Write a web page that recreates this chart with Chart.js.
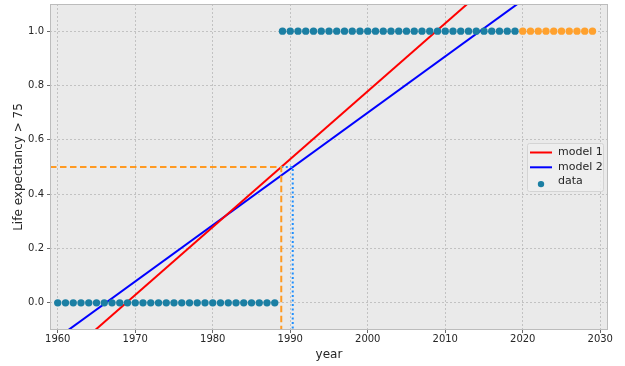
<!DOCTYPE html>
<html>
<head>
<meta charset="utf-8">
<script src="https://cdn.jsdelivr.net/npm/chart.js@4/dist/chart.umd.min.js"></script>
<style>
  html, body { margin: 0; padding: 0; background: #ffffff; }
  #wrap { width: 625px; height: 366px; }
</style>
</head>
<body>
<div id="wrap"><canvas id="chart" width="625" height="366"></canvas></div>
<script>
  // observed years and the 0/1 outcome
  var obsYears = [];
  var obsValues = [
    0, 0, 0, 0, 0, 0, 0, 0, 0, 0, 0, 0, 0, 0, 0, 0, 0, 0, 0, 0,
    0, 0, 0, 0, 0, 0, 0, 0, 0,
    1, 1, 1, 1, 1, 1, 1, 1, 1, 1, 1, 1, 1, 1, 1, 1, 1, 1, 1, 1,
    1, 1, 1, 1, 1, 1, 1, 1, 1, 1, 1
  ];
  for (var i = 0; i < obsValues.length; i++) obsYears.push(1960 + i);

  // projected years (orange)
  var projYears = [2020, 2021, 2022, 2023, 2024, 2025, 2026, 2027, 2028, 2029];
  var projValues = [1, 1, 1, 1, 1, 1, 1, 1, 1, 1];

  // fitted lines, endpoints
  var model1X = [1959, 2031];
  var model1Y = [-0.246, 1.554];
  var model2X = [1959, 2031];
  var model2Y = [-0.149, 1.342];

  // 0.5 threshold crossings
  var cut1 = 1988.84;
  var cut2 = 1990.32;
  var threshold = 0.5;

  var xTicks = [1960, 1970, 1980, 1990, 2000, 2010, 2020, 2030];
  var yTicks = [0, 0.2, 0.4, 0.6, 0.8, 1.0];

  var FONT = "'DejaVu Sans', sans-serif";
  var TEXT = '#262626';

  function pts(xs, ys) {
    return xs.map(function (x, k) { return { x: x, y: ys[k] }; });
  }

  var plotBg = {
    id: 'plotBg',
    beforeDraw: function (chart) {
      var a = chart.chartArea, ctx = chart.ctx;
      ctx.save();
      ctx.fillStyle = '#eaeaea';
      ctx.fillRect(a.left, a.top, a.right - a.left, a.bottom - a.top);
      ctx.restore();
    },
    afterDraw: function (chart) {
      var a = chart.chartArea, ctx = chart.ctx;
      ctx.save();
      ctx.strokeStyle = '#bcbcbc';
      ctx.lineWidth = 1;
      ctx.strokeRect(a.left + 0.5, a.top + 0.5, a.right - a.left - 1, a.bottom - a.top - 1);
      ctx.restore();
    }
  };

  // legend drawn inside the plot, from the dataset labels/colours
  var innerLegend = {
    id: 'innerLegend',
    afterDraw: function (chart) {
      var ctx = chart.ctx;
      var items = chart.data.datasets.filter(function (d) { return d.legend; });
      var x0 = 527, y0 = 143, w = 76, h = 48;
      ctx.save();
      ctx.fillStyle = 'rgba(238,238,238,0.85)';
      ctx.strokeStyle = '#d4d4d4';
      ctx.lineWidth = 1;
      ctx.beginPath();
      ctx.roundRect(x0 + 0.5, y0 + 0.5, w, h, 2);
      ctx.fill();
      ctx.stroke();
      ctx.font = '11px ' + FONT;
      ctx.textBaseline = 'middle';
      items.forEach(function (d, k) {
        var cy = y0 + 9.5 + k * 14.8;
        if (d.type === 'line') {
          ctx.strokeStyle = d.borderColor;
          ctx.lineWidth = 2;
          ctx.beginPath();
          ctx.moveTo(x0 + 3, cy);
          ctx.lineTo(x0 + 25, cy);
          ctx.stroke();
        } else {
          ctx.fillStyle = d.backgroundColor;
          ctx.beginPath();
          ctx.arc(x0 + 14, cy + 2, 3.2, 0, Math.PI * 2);
          ctx.fill();
        }
        ctx.fillStyle = TEXT;
        ctx.fillText(d.label, x0 + 31, cy - 0.5);
      });
      ctx.restore();
    }
  };

  new Chart(document.getElementById('chart'), {
    type: 'scatter',
    data: {
      datasets: [
        {
          type: 'line', label: 'model 1', legend: true,
          data: pts(model1X, model1Y),
          borderColor: '#ff0000', borderWidth: 2, pointRadius: 0, order: 3
        },
        {
          type: 'line', label: 'model 2', legend: true,
          data: pts(model2X, model2Y),
          borderColor: '#0000ff', borderWidth: 2, pointRadius: 0, order: 3
        },
        {
          type: 'line', label: 'cut 2',
          data: pts([cut1, cut2, cut2], [threshold, threshold, -0.1]),
          borderColor: '#1e8fff', borderWidth: 2, borderDash: [2, 2.5],
          pointRadius: 0, order: 2
        },
        {
          type: 'line', label: 'cut 1',
          data: pts([1959, cut1, cut1], [threshold, threshold, -0.1]),
          borderColor: '#ff9a22', borderWidth: 2, borderDash: [6.5, 3.5],
          pointRadius: 0, order: 1
        },
        {
          label: 'data', legend: true,
          data: pts(obsYears, obsValues),
          backgroundColor: '#1b7fa3', borderWidth: 0, pointRadius: 3.7, order: 0
        },
        {
          label: 'projection',
          data: pts(projYears, projValues),
          backgroundColor: '#ffa12e', borderWidth: 0, pointRadius: 3.7, order: 0
        }
      ]
    },
    options: {
      responsive: false,
      animation: false,
      layout: { padding: { top: 4, right: 17, left: 0, bottom: 0 } },
      plugins: { legend: { display: false }, tooltip: { enabled: false } },
      scales: {
        x: {
          type: 'linear', min: 1959, max: 2031,
          afterBuildTicks: function (s) { s.ticks = xTicks.map(function (v) { return { value: v }; }); },
          afterFit: function (s) { s.height = 36; s.paddingLeft = 0; s.paddingRight = 0; },
          ticks: { color: TEXT, font: { family: FONT, size: 10 }, padding: 0, maxRotation: 0,
                   callback: function (v) { return String(v); } },
          grid: { color: '#b8b8b8', lineWidth: 0.8, tickColor: '#444', tickLength: 3 },
          border: { display: false, dash: [2, 2] },
          title: { display: true, text: 'year', color: TEXT, font: { family: FONT, size: 12 }, padding: { top: 1 } }
        },
        y: {
          min: -0.1, max: 1.1,
          afterBuildTicks: function (s) { s.ticks = yTicks.map(function (v) { return { value: v }; }); },
          afterFit: function (s) { s.width = 50; s.paddingTop = 0; s.paddingBottom = 0; },
          ticks: { color: TEXT, font: { family: FONT, size: 10 }, padding: 3,
                   callback: function (v) { return v.toFixed(1); } },
          grid: { color: '#b8b8b8', lineWidth: 0.8, tickColor: '#444', tickLength: 3 },
          border: { display: false, dash: [2, 2] },
          title: { display: true, text: 'Life expectancy > 75', color: TEXT, font: { family: FONT, size: 12 }, padding: { top: 12, bottom: 0 } }
        }
      }
    },
    plugins: [plotBg, innerLegend]
  });
</script>
</body>
</html>
